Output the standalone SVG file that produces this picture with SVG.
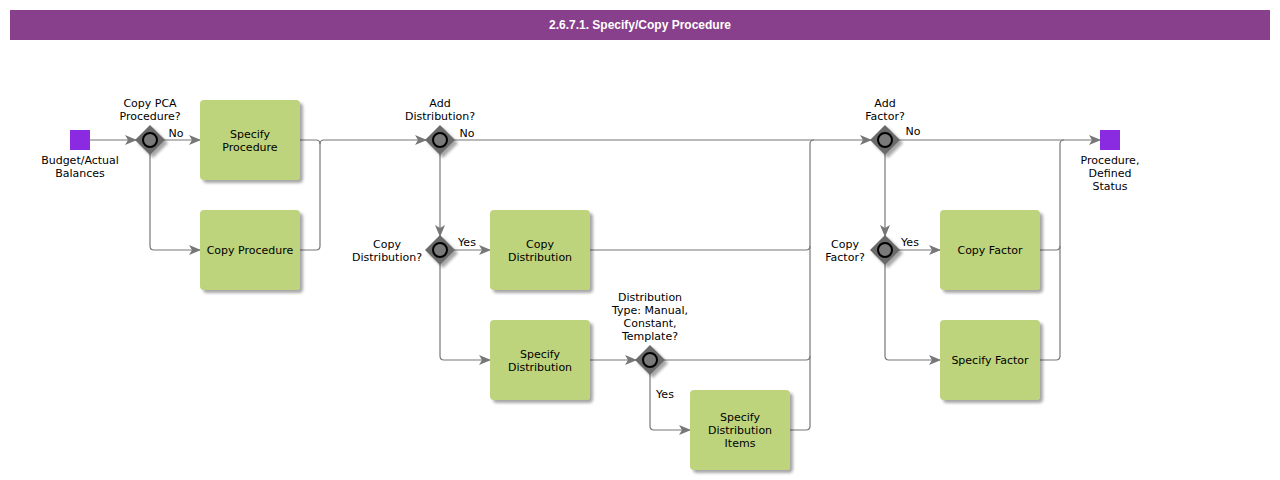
<svg xmlns="http://www.w3.org/2000/svg" width="1280" height="480" viewBox="0 0 1280 480">
<defs>
<marker id="arr" markerWidth="12" markerHeight="10" refX="11" refY="5" orient="auto" markerUnits="userSpaceOnUse">
<path d="M0,0 L12,5 L0,10 L3,5 Z" fill="#777"/>
</marker>
<filter id="sh" x="-20%" y="-20%" width="150%" height="150%">
<feGaussianBlur in="SourceAlpha" stdDeviation="1.5"/>
<feOffset dx="3" dy="3" result="b"/>
<feComponentTransfer><feFuncA type="linear" slope="0.35"/></feComponentTransfer>
<feMerge><feMergeNode/><feMergeNode in="SourceGraphic"/></feMerge>
</filter>
<g id="gw">
<path d="M0,-15 L15,0 L0,15 L-15,0 Z" fill="#6b6b6b" filter="url(#sh)"/>
<circle r="7" fill="#7a7a7a" stroke="#000" stroke-width="2"/>
</g>
</defs>
<style>
text{font-family:"DejaVu Sans",Verdana,sans-serif;font-size:11px;fill:#000;text-anchor:middle}
.title{font-family:"Liberation Sans",Arial,sans-serif;font-weight:bold;font-size:12px;fill:#fff}
.box{fill:#bdd37b;filter:url(#sh)}
.ev{fill:#8a2be2}
.c{fill:none;stroke:#777;stroke-width:1.2}
.a{marker-end:url(#arr)}
</style>
<rect x="10" y="10" width="1260" height="30" fill="#883f8c"/>
<text class="title" x="640" y="29">2.6.7.1. Specify/Copy Procedure</text>

<g id="connectors">
<path class="c a" d="M90,140 H136"/>
<path class="c a" d="M164,140 H200"/>
<path class="c a" d="M150,154 V246 Q150,250 154,250 H200"/>
<path class="c" d="M300,140 H316 Q320,140 320,144"/>
<path class="c a" d="M300,250 H316 Q320,250 320,246 V144 Q320,140 324,140 H426"/>
<path class="c a" d="M454,140 H806 Q810,140 814,140 H871"/>
<path class="c a" d="M440,154 V236"/>
<path class="c a" d="M454,250 H490"/>
<path class="c a" d="M440,264 V356 Q440,360 444,360 H490"/>
<path class="c" d="M590,250 H806 Q810,250 810,246"/>
<path class="c a" d="M590,360 H636"/>
<path class="c" d="M664,360 H806 Q810,360 810,356"/>
<path class="c a" d="M650,374 V426 Q650,430 654,430 H690"/>
<path class="c" d="M790,430 H806 Q810,430 810,426 V144 Q810,140 814,140"/>
<path class="c a" d="M899,140 H1100"/>
<path class="c a" d="M885,154 V236"/>
<path class="c a" d="M899,250 H940"/>
<path class="c a" d="M885,264 V356 Q885,360 889,360 H940"/>
<path class="c" d="M1040,250 H1056 Q1060,250 1060,246"/>
<path class="c" d="M1040,360 H1056 Q1060,360 1060,356 V144 Q1060,140 1064,140"/>
<text x="176" y="137">No</text>
<text x="467" y="137">No</text>
<text x="467" y="246">Yes</text>
<text x="665" y="398">Yes</text>
<text x="913" y="135">No</text>
<text x="910" y="246">Yes</text>
</g>

<g id="start">
<rect class="ev" x="70" y="130" width="20" height="20"/>
<text x="80" y="164">Budget/Actual</text>
<text x="80" y="177">Balances</text>
</g>
<g id="gw-copy-pca">
<use href="#gw" x="150" y="140"/>
<text x="150" y="107">Copy PCA</text>
<text x="150" y="120">Procedure?</text>
</g>
<g id="specify-procedure">
<rect class="box" x="200" y="100" width="100" height="80" rx="4"/>
<text x="250" y="138">Specify</text>
<text x="250" y="151">Procedure</text>
</g>
<g id="copy-procedure">
<rect class="box" x="200" y="210" width="100" height="80" rx="4"/>
<text x="250" y="254">Copy Procedure</text>
</g>
<g id="gw-add-dist">
<use href="#gw" x="440" y="140"/>
<text x="440" y="107">Add</text>
<text x="440" y="120">Distribution?</text>
</g>
<g id="gw-copy-dist">
<use href="#gw" x="440" y="250"/>
<text x="387" y="248">Copy</text>
<text x="387" y="261">Distribution?</text>
</g>
<g id="copy-distribution">
<rect class="box" x="490" y="210" width="100" height="80" rx="4"/>
<text x="540" y="248">Copy</text>
<text x="540" y="261">Distribution</text>
</g>
<g id="specify-distribution">
<rect class="box" x="490" y="320" width="100" height="80" rx="4"/>
<text x="540" y="358">Specify</text>
<text x="540" y="371">Distribution</text>
</g>
<g id="gw-dist-type">
<use href="#gw" x="650" y="360"/>
<text x="650" y="301">Distribution</text>
<text x="650" y="314">Type: Manual,</text>
<text x="650" y="327">Constant,</text>
<text x="650" y="340">Template?</text>
</g>
<g id="specify-distribution-items">
<rect class="box" x="690" y="390" width="100" height="80" rx="4"/>
<text x="740" y="421">Specify</text>
<text x="740" y="434">Distribution</text>
<text x="740" y="447">Items</text>
</g>
<g id="gw-add-factor">
<use href="#gw" x="885" y="140"/>
<text x="885" y="107">Add</text>
<text x="885" y="120">Factor?</text>
</g>
<g id="gw-copy-factor">
<use href="#gw" x="885" y="250"/>
<text x="845" y="248">Copy</text>
<text x="845" y="261">Factor?</text>
</g>
<g id="copy-factor">
<rect class="box" x="940" y="210" width="100" height="80" rx="4"/>
<text x="990" y="254">Copy Factor</text>
</g>
<g id="specify-factor">
<rect class="box" x="940" y="320" width="100" height="80" rx="4"/>
<text x="990" y="364">Specify Factor</text>
</g>
<g id="end">
<rect class="ev" x="1100" y="130" width="20" height="20"/>
<text x="1110" y="164">Procedure,</text>
<text x="1110" y="177">Defined</text>
<text x="1110" y="190">Status</text>
</g>
</svg>
